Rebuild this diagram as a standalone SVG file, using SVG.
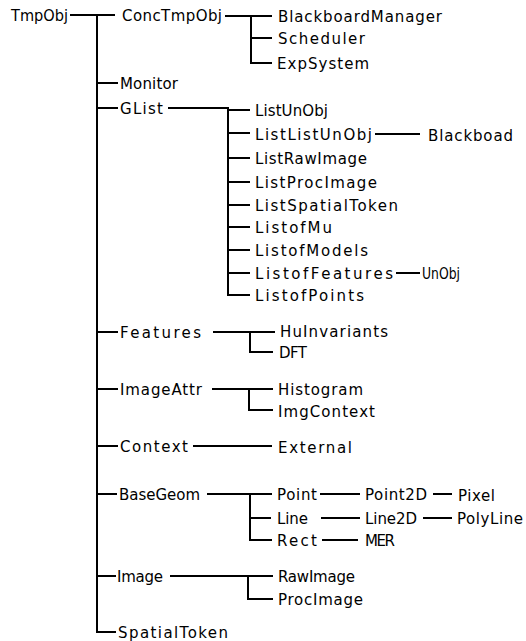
<svg xmlns="http://www.w3.org/2000/svg" width="526" height="641" viewBox="0 0 526 641">
<style>
text{font-family:"DejaVu Sans","Liberation Sans",sans-serif;font-size:15px;fill:#000}
.c path{fill:none;stroke:#000;stroke-width:2}
</style>
<rect width="526" height="641" fill="#fff"/>
<g class="c" id="connectors">
<path d="M97 15V632H116"/>
<path d="M70 15H115M97 83H118M97 108H118M97 332H118M97 389H118M97 446H118M97 494H117M97 576H116"/>
<path d="M225 16H272M251 16V63H272M251 38H272"/>
<path d="M168 108H228V295H250M228 110H250M228 133H250M228 158H250M228 182H250M228 205H250M228 227H250M228 250H250M228 273H250"/>
<path d="M375 134H420M396 273H420"/>
<path d="M213 332H275M250 332V352H273"/>
<path d="M212 389H273M249 389V410H273"/>
<path d="M193 446H272"/>
<path d="M207 494H272M250 494V540H272M250 518H271"/>
<path d="M320 494H360M433 494H452M321 518H360M423 518H452M322 540H358"/>
<path d="M170 576H273M248 576V599H273"/>
</g>
<g id="TmpObj"><text x="11" y="21" textLength="57" lengthAdjust="spacingAndGlyphs">TmpObj</text></g>
<g id="ConcTmpObj"><text x="122" y="21" textLength="100">ConcTmpObj</text></g>
<g id="BlackboardManager"><text x="278" y="22" textLength="164">BlackboardManager</text></g>
<g id="Scheduler"><text x="278" y="44" textLength="87">Scheduler</text></g>
<g id="ExpSystem"><text x="277" y="69" textLength="92">ExpSystem</text></g>
<g id="Monitor"><text x="120" y="89" textLength="58">Monitor</text></g>
<g id="GList"><text x="120" y="114" textLength="43">GList</text></g>
<g id="ListUnObj"><text x="255" y="116" textLength="73">ListUnObj</text></g>
<g id="ListListUnObj"><text x="255" y="140" textLength="117">ListListUnObj</text></g>
<g id="Blackboad"><text x="428" y="141" textLength="85">Blackboad</text></g>
<g id="ListRawImage"><text x="255" y="164" textLength="112">ListRawImage</text></g>
<g id="ListProcImage"><text x="255" y="188" textLength="122">ListProcImage</text></g>
<g id="ListSpatialToken"><text x="255" y="211" textLength="143">ListSpatialToken</text></g>
<g id="ListofMu"><text x="255" y="233" textLength="77">ListofMu</text></g>
<g id="ListofModels"><text x="255" y="256" textLength="113">ListofModels</text></g>
<g id="ListofFeatures"><text x="255" y="279" textLength="138">ListofFeatures</text></g>
<g id="UnObj"><text x="422" y="279" textLength="38" lengthAdjust="spacingAndGlyphs">UnObj</text></g>
<g id="ListofPoints"><text x="255" y="301" textLength="109">ListofPoints</text></g>
<g id="Features"><text x="120" y="338" textLength="81">Features</text></g>
<g id="HuInvariants"><text x="280" y="337" textLength="108">HuInvariants</text></g>
<g id="DFT"><text x="279" y="358" textLength="28">DFT</text></g>
<g id="ImageAttr"><text x="120" y="395" textLength="82">ImageAttr</text></g>
<g id="Histogram"><text x="278" y="395" textLength="85">Histogram</text></g>
<g id="ImgContext"><text x="278" y="417" textLength="97">ImgContext</text></g>
<g id="Context"><text x="120" y="452" textLength="68">Context</text></g>
<g id="External"><text x="278" y="453" textLength="74">External</text></g>
<g id="BaseGeom"><text x="119" y="500" textLength="81">BaseGeom</text></g>
<g id="Point"><text x="277" y="500" textLength="40">Point</text></g>
<g id="Point2D"><text x="365" y="500" textLength="62">Point2D</text></g>
<g id="Pixel"><text x="458" y="501" textLength="37">Pixel</text></g>
<g id="Line"><text x="277" y="524" textLength="31">Line</text></g>
<g id="Line2D"><text x="365" y="524" textLength="52">Line2D</text></g>
<g id="PolyLine"><text x="457" y="524" textLength="66">PolyLine</text></g>
<g id="Rect"><text x="277" y="546" textLength="40">Rect</text></g>
<g id="MER"><text x="365" y="546" textLength="30">MER</text></g>
<g id="Image"><text x="117" y="582" textLength="46">Image</text></g>
<g id="RawImage"><text x="278" y="582" textLength="77">RawImage</text></g>
<g id="ProcImage"><text x="278" y="605" textLength="85">ProcImage</text></g>
<g id="SpatialToken"><text x="118" y="638" textLength="110">SpatialToken</text></g>
</svg>
